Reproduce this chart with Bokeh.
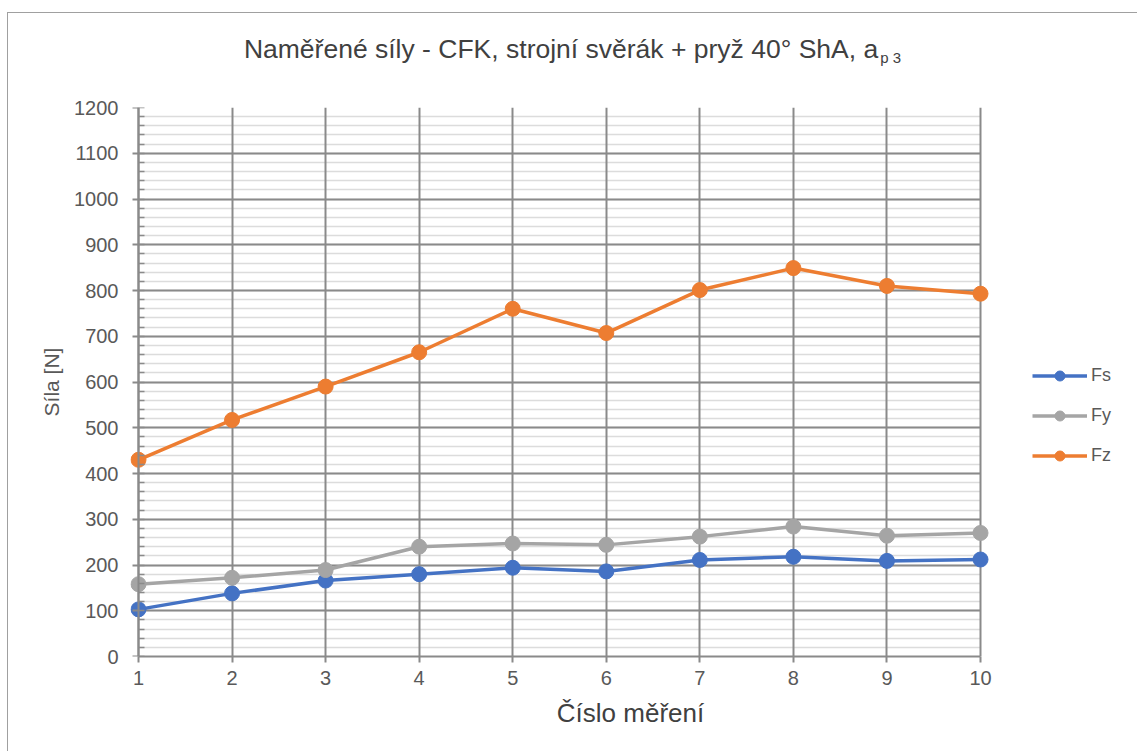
from bokeh.plotting import figure
from bokeh.models import (Range1d, SingleIntervalTicker, FixedTicker, Legend,
                          LegendItem, Div, Grid, LinearAxis)
from bokeh.layouts import column
from bokeh.embed import file_html
from bokeh.resources import INLINE

# ---- data ----
measurement = [1, 2, 3, 4, 5, 6, 7, 8, 9, 10]
fs = [103, 138, 166, 180, 194, 186, 211, 218, 209, 212]
fy = [158, 172, 189, 240, 247, 244, 262, 284, 264, 270]
fz = [430, 517, 590, 665, 760, 707, 801, 849, 810, 793]
series_names = ["Fs", "Fy", "Fz"]
series_values = [fs, fy, fz]
series_colors = ["#4472C4", "#A5A5A5", "#ED7D31"]
title_main = "Naměřené síly - CFK, strojní svěrák + pryž 40° ShA, a"
title_sub = "p 3"
x_title = "Číslo měření"
y_title = "Síla [N]"

FONT = "Liberation Sans"
GRID_DARK = "#8a8a8a"
GRID_LIGHT = "#dcdcdc"

x_first, x_last = measurement[0], measurement[-1]
PX_PER_UNIT = 93.56          # layout: pixels per measurement step
x_min = x_first - 8 / PX_PER_UNIT
x_max = x_last + 150 / PX_PER_UNIT   # room on the right for the legend

p = figure(width=1129, height=664,
           x_range=Range1d(x_min, x_max), y_range=Range1d(0, 1200),
           output_backend="svg", toolbar_location=None,
           min_border_left=122, min_border_right=7,
           min_border_top=20, min_border_bottom=95)
p.outline_line_color = None
p.background_fill_color = "white"
p.border_fill_color = "white"

yt = SingleIntervalTicker(interval=100, num_minor_ticks=5)
xt = FixedTicker(ticks=measurement)
p.xaxis.ticker = xt
xg = p.xgrid[0]
yg = p.ygrid[0]
yg.ticker = yt
xg.ticker = xt

yg.grid_line_color = GRID_DARK
yg.grid_line_width = 2
yg.minor_grid_line_color = GRID_LIGHT
yg.minor_grid_line_width = 1.6
xg.grid_line_color = GRID_DARK
xg.grid_line_width = 2
if "cross_bounds" in Grid.properties():
    yg.cross_bounds = (x_first, x_last)
# vertical grid lines drawn above the horizontal ones
p.center = [yg, xg] + [r for r in p.center if r is not xg and r is not yg]

# x axis
xa = p.xaxis[0]
xa.bounds = (x_first, x_last)
xa.axis_line_color = GRID_DARK
xa.axis_line_width = 2
xa.major_tick_line_color = GRID_DARK
xa.major_tick_line_width = 2
xa.major_tick_in = 0
xa.major_tick_out = 6
xa.minor_tick_line_color = None
xa.major_label_text_font = FONT
xa.major_label_text_font_size = "20px"
xa.major_label_text_color = "#595959"
xa.major_label_standoff = 8
xa.axis_label = x_title
xa.axis_label_text_font = FONT
xa.axis_label_text_font_style = "normal"
xa.axis_label_text_font_size = "26px"
xa.axis_label_text_color = "#404040"
xa.axis_label_standoff = 10

# y axis: default one hidden; one axis carries labels, one draws line/ticks at x = 1
p.yaxis.visible = False
y_labels = LinearAxis(ticker=yt, axis_line_color=None,
                      major_tick_line_color=None, minor_tick_line_color=None,
                      major_tick_in=0, major_tick_out=0,
                      minor_tick_in=0, minor_tick_out=0,
                      major_label_standoff=12,
                      major_label_text_font=FONT, major_label_text_font_size="20px",
                      major_label_text_color="#595959",
                      axis_label=y_title, axis_label_text_font=FONT,
                      axis_label_text_font_style="normal",
                      axis_label_text_font_size="21px",
                      axis_label_text_color="#595959", axis_label_standoff=8)
p.add_layout(y_labels, "left")
y_line = LinearAxis(ticker=yt, fixed_location=x_first,
                    axis_line_color=GRID_DARK, axis_line_width=2,
                    major_tick_line_color=GRID_DARK, major_tick_line_width=2,
                    major_tick_in=0, major_tick_out=6,
                    minor_tick_line_color=GRID_DARK, minor_tick_line_width=1.5,
                    minor_tick_in=6, minor_tick_out=0,
                    major_label_text_color=None, major_label_text_font_size="1px")
p.add_layout(y_line, "left")

items = []
for name, vals, col in zip(series_names, series_values, series_colors):
    lr = p.line(measurement, vals, line_width=3.5, line_color=col)
    sr = p.scatter(measurement, vals, size=15, fill_color=col, line_color=col)
    items.append(LegendItem(label=name, renderers=[lr, sr]))

legend = Legend(items=items, location=(902, 188), padding=0, margin=0,
                border_line_color=None, background_fill_alpha=0,
                glyph_width=55, glyph_height=25, label_height=25, spacing=15,
                label_standoff=4, label_text_font=FONT,
                label_text_font_size="18px", label_text_color="#595959")
p.add_layout(legend)

title_html = (
    '<div style="width:1129px;text-align:center;padding-top:21px;'
    'font-family:\'Liberation Sans\';font-size:26.5px;line-height:30px;color:#404040;'
    'white-space:nowrap;">'
    + title_main
    + '<span style="font-size:15px;position:relative;top:5px;margin-left:2px;">'
    + title_sub + '</span></div>'
)
title_div = Div(text=title_html, width=1129, height=74, margin=0)

layout = column(title_div, p, spacing=0, margin=(12, 0, 0, 7))
layout.styles = {"border-top": "1px solid #a0a0a0", "border-left": "1px solid #a0a0a0"}

open("out.html", "w").write(file_html(layout, INLINE))
